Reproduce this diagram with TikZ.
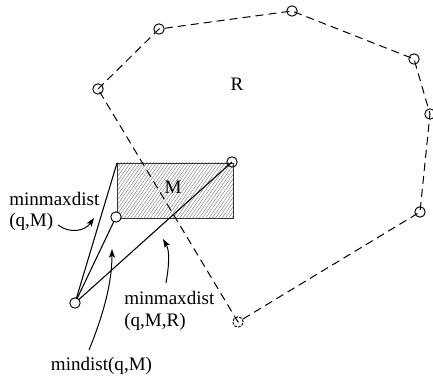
\documentclass[tikz,border=0pt]{standalone}
\usepackage{fontspec}
\setmainfont{Liberation Serif}
\usetikzlibrary{arrows.meta,patterns.meta}
\begin{document}
\begin{tikzpicture}[x=0.75pt,y=-0.75pt,
  vtx/.style={circle,draw,line width=0.7pt,minimum size=7.8pt,inner sep=0pt},
  wvtx/.style={vtx,fill=white},
  dvtx/.style={vtx,dash pattern=on 2pt off 1pt},
  poly/.style={line width=0.75pt,dash pattern=on 6pt off 3.8pt},
  seg/.style={line width=0.8pt},
  arr/.style={line width=0.75pt,-{Stealth[length=6.5pt,width=4.5pt,inset=1.5pt]}},
  lbl/.style={inner sep=0pt,font=\fontsize{14.3}{15.8}\selectfont},
]
\useasboundingbox (0,0) rectangle (433,377);
% hatched rectangle M
\draw[line width=0.65pt,draw=black!80,pattern={Lines[angle=55,distance=2pt,line width=0.35pt]},pattern color=black!50]
  (117,163) coordinate (mtl) rectangle (233,218) coordinate (mbr);
% polygon R
\coordinate (A) at (98,89);
\coordinate (B) at (159,29);
\coordinate (C) at (292,11);
\coordinate (D) at (414,59);
\coordinate (E) at (430,114);
\coordinate (F) at (420,212);
\coordinate (G) at (238,322);
\draw[poly] (A) -- (B) -- (C) -- (D) -- (E) -- (F) -- (G) -- cycle;
\foreach \p in {A,B,C,D,E,F} \node[vtx] (n\p) at (\p) {};
\node[dvtx] (nG) at (G) {};
% query point and segments
\coordinate (qc) at (75,303);
\coordinate (m1c) at (116,217);
\coordinate (m2c) at (232,162);
\draw[seg] (qc) -- (mtl);
\draw[seg] (qc) -- (m1c);
\draw[seg] (qc) -- (m2c);
\node[wvtx] (q) at (qc) {};
\node[wvtx] (m1) at (m1c) {};
\node[vtx] (m2) at (m2c) {};
% labels
\node[lbl] (R) at (237,84) {R};
\node[lbl] (M) at (173,187) {M};
\node[lbl,anchor=base west] (l1a) at (9,205.7) {minmaxdist};
\node[lbl,anchor=base west] (l1b) at (9,226.7) {(q,M)};
\node[lbl,anchor=base west] (l2a) at (124,305) {minmaxdist};
\node[lbl,anchor=base west] (l2b) at (124,326.7) {(q,M,R)};
\node[lbl,anchor=base] (l3) at (101.5,371) {mindist(q,M)};
% pointer arrows
\coordinate (a1s) at (58,225);
\coordinate (a1e) at (94,218);
\coordinate (a2s) at (166,283);
\coordinate (a2e) at (163,239);
\coordinate (a3s) at (89,350);
\coordinate (a3e) at (112,249);
\draw[arr] (a1s) .. controls (70,234) and (85,231) .. (a1e);
\draw[arr] (a2s) .. controls (169,266) and (170,251) .. (a2e);
\draw[arr] (a3s) .. controls (102,318) and (112,285) .. (a3e);
\end{tikzpicture}
\end{document}
